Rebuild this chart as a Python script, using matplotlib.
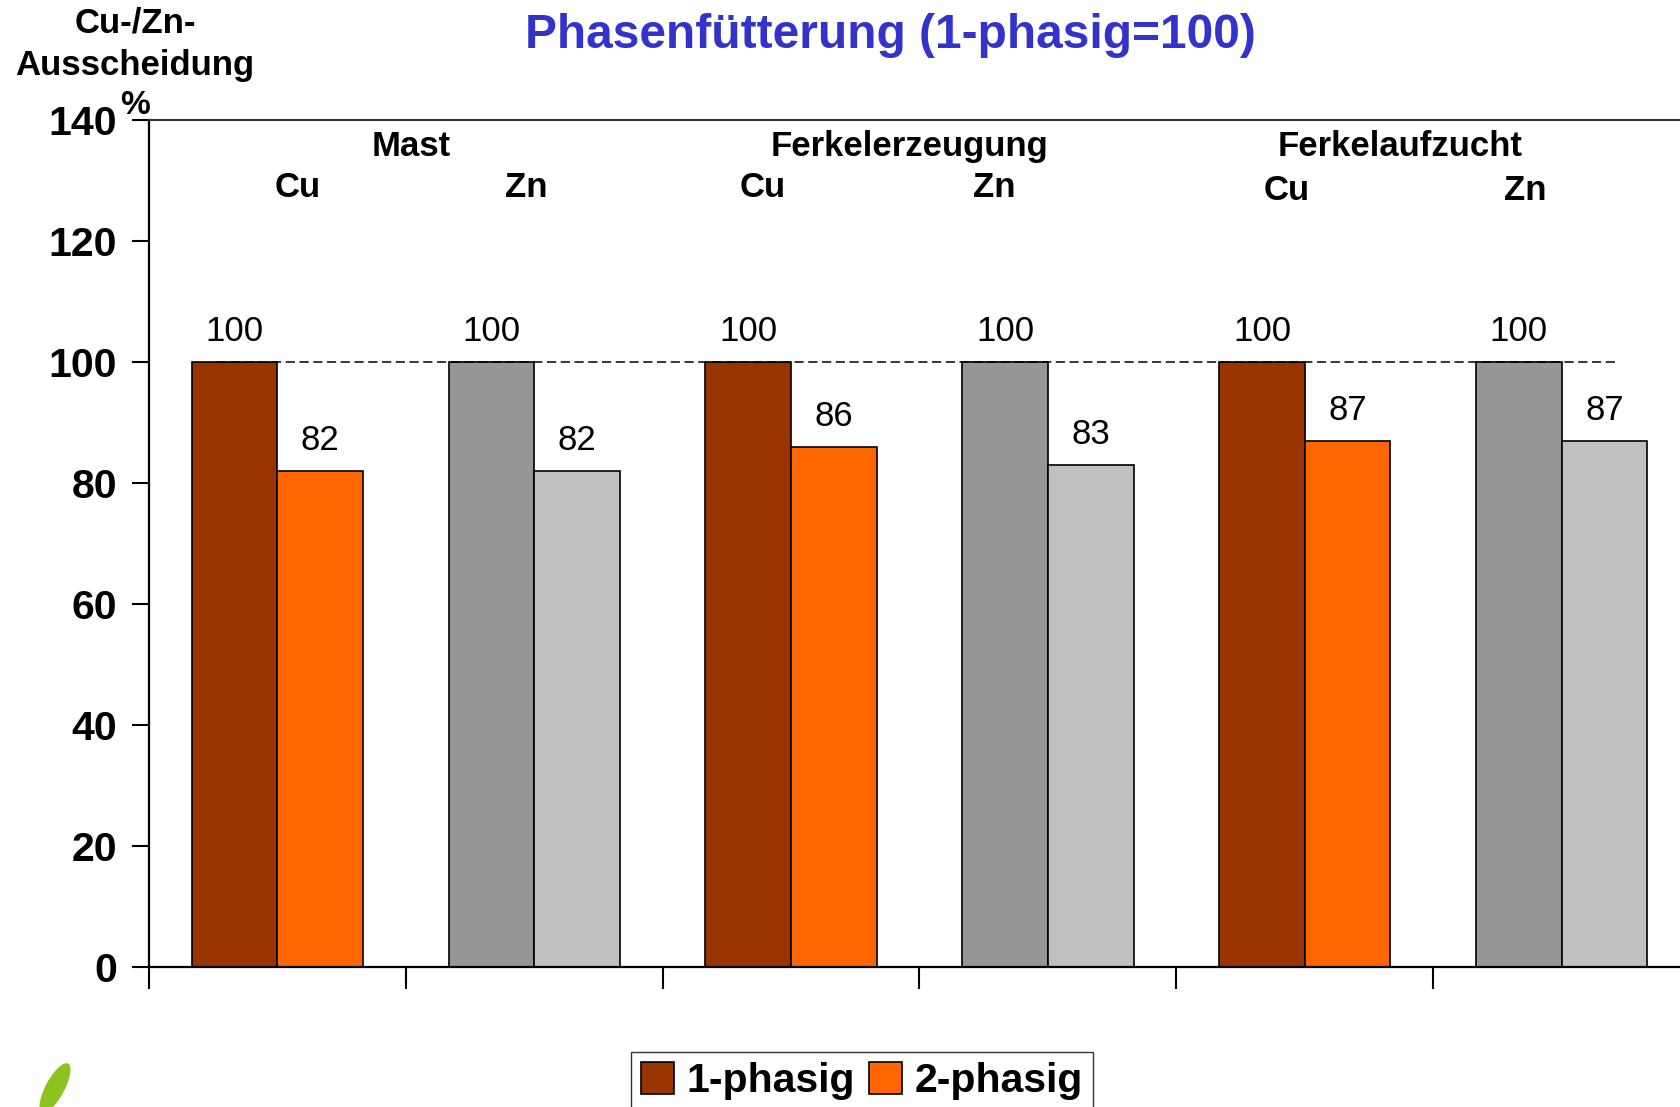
import matplotlib
matplotlib.use("Agg")
import matplotlib.pyplot as plt
from matplotlib.patches import Patch, Ellipse

plt.rcParams['font.family'] = ['Liberation Sans', 'DejaVu Sans']

categories = ['Mast Cu', 'Mast Zn', 'Ferkelerzeugung Cu', 'Ferkelerzeugung Zn',
              'Ferkelaufzucht Cu', 'Ferkelaufzucht Zn']
one_phase = [100, 100, 100, 100, 100, 100]
two_phase = [82, 82, 86, 83, 87, 87]
colors_one = ['#993300', '#969696', '#993300', '#969696', '#993300', '#969696']
colors_two = ['#FF6600', '#C0C0C0', '#FF6600', '#C0C0C0', '#FF6600', '#C0C0C0']
groups = ['Mast', 'Ferkelerzeugung', 'Ferkelaufzucht']
group_x = [0.52, 2.46, 4.37]
element_labels = ['Cu', 'Zn', 'Cu', 'Zn', 'Cu', 'Zn']
element_x = [0.08, 0.97, 1.89, 2.79, 3.93, 4.86]
element_y = [128.8, 128.8, 128.8, 128.8, 128.4, 128.4]
yticks = [0, 20, 40, 60, 80, 100, 120, 140]

W, H = 1681, 1107
fig = plt.figure(figsize=(W / 100, H / 100), dpi=100)
ax = fig.add_axes([149 / W, (H - 967) / H, 1541 / W, 847 / H])

n = len(categories)
xs = list(range(n))
bw = 1 / 3
ax.bar([x - bw / 2 for x in xs], one_phase, width=bw, color=colors_one,
       edgecolor='black', linewidth=1.2, zorder=2)
ax.bar([x + bw / 2 for x in xs], two_phase, width=bw, color=colors_two,
       edgecolor='black', linewidth=1.2, zorder=2)

for x, v in zip(xs, one_phase):
    ax.annotate(f'{v}', (x - bw / 2, v), xytext=(0, 15), textcoords='offset points',
                ha='center', va='baseline', fontsize=25)
for x, v in zip(xs, two_phase):
    ax.annotate(f'{v}', (x + bw / 2, v), xytext=(0, 15), textcoords='offset points',
                ha='center', va='baseline', fontsize=25)

# reference line at 100
ax.plot([-0.235, 5.214], [100, 100], color='black', linestyle=(0, (6, 3)),
        linewidth=1.1, zorder=3)

for g, gx in zip(groups, group_x):
    ax.text(gx, 135.6, g, ha='center', va='center', fontsize=25, fontweight='bold')
for e, ex, ey in zip(element_labels, element_x, element_y):
    ax.text(ex, ey, e, ha='center', va='center', fontsize=25, fontweight='bold')

ax.set_xlim(-0.5, n - 0.5)
ax.set_ylim(0, 140)
ax.set_yticks(yticks)
ax.set_yticklabels([str(t) for t in yticks], fontsize=29.5, fontweight='bold')
ax.set_xticks([x - 0.5 for x in range(n + 1)])
ax.set_xticklabels([])
ax.tick_params(axis='y', direction='out', length=12, width=1.5, pad=11)
ax.tick_params(axis='x', direction='out', length=16, width=1.5)
for s in ['left', 'bottom']:
    ax.spines[s].set_linewidth(1.6)
    ax.spines[s].set_color('black')
ax.spines['top'].set_color('#333333')
ax.spines['top'].set_linewidth(1.5)
ax.spines['right'].set_visible(False)

fig.text(890 / W, 1 - 35 / H, 'Phasenfütterung (1-phasig=100)', ha='center', va='center',
         fontsize=34.5, fontweight='bold', color='#3333CC')
fig.text(135 / W, 1 - 23 / H, 'Cu-/Zn-', ha='center', va='center', fontsize=25, fontweight='bold')
fig.text(135 / W, 1 - 66 / H, 'Ausscheidung', ha='center', va='center', fontsize=25, fontweight='bold')
fig.text(135 / W, 1 - 106 / H, '%', ha='center', va='center', fontsize=24, fontweight='bold')

handles = [Patch(facecolor='#993300', edgecolor='black', linewidth=1.2, label='1-phasig'),
           Patch(facecolor='#FF6600', edgecolor='black', linewidth=1.2, label='2-phasig')]
fig.legend(handles=handles, loc='upper center', bbox_to_anchor=(862 / W, (H - 1052) / H),
           ncol=2, prop={'weight': 'bold', 'size': 29.5}, frameon=True,
           fancybox=False, edgecolor='black', handlelength=0.8, handleheight=0.8,
           handletextpad=0.3, columnspacing=0.35, borderpad=0.25, borderaxespad=0)

# small leaf logo at the bottom left
leaf = Ellipse((55 / W, 1 - 1088 / H), 20 / W, 52 / H, angle=-18,
               transform=fig.transFigure, facecolor='#8DC21F', edgecolor='none')
fig.patches.append(leaf)

fig.savefig('out.png', dpi=100)
